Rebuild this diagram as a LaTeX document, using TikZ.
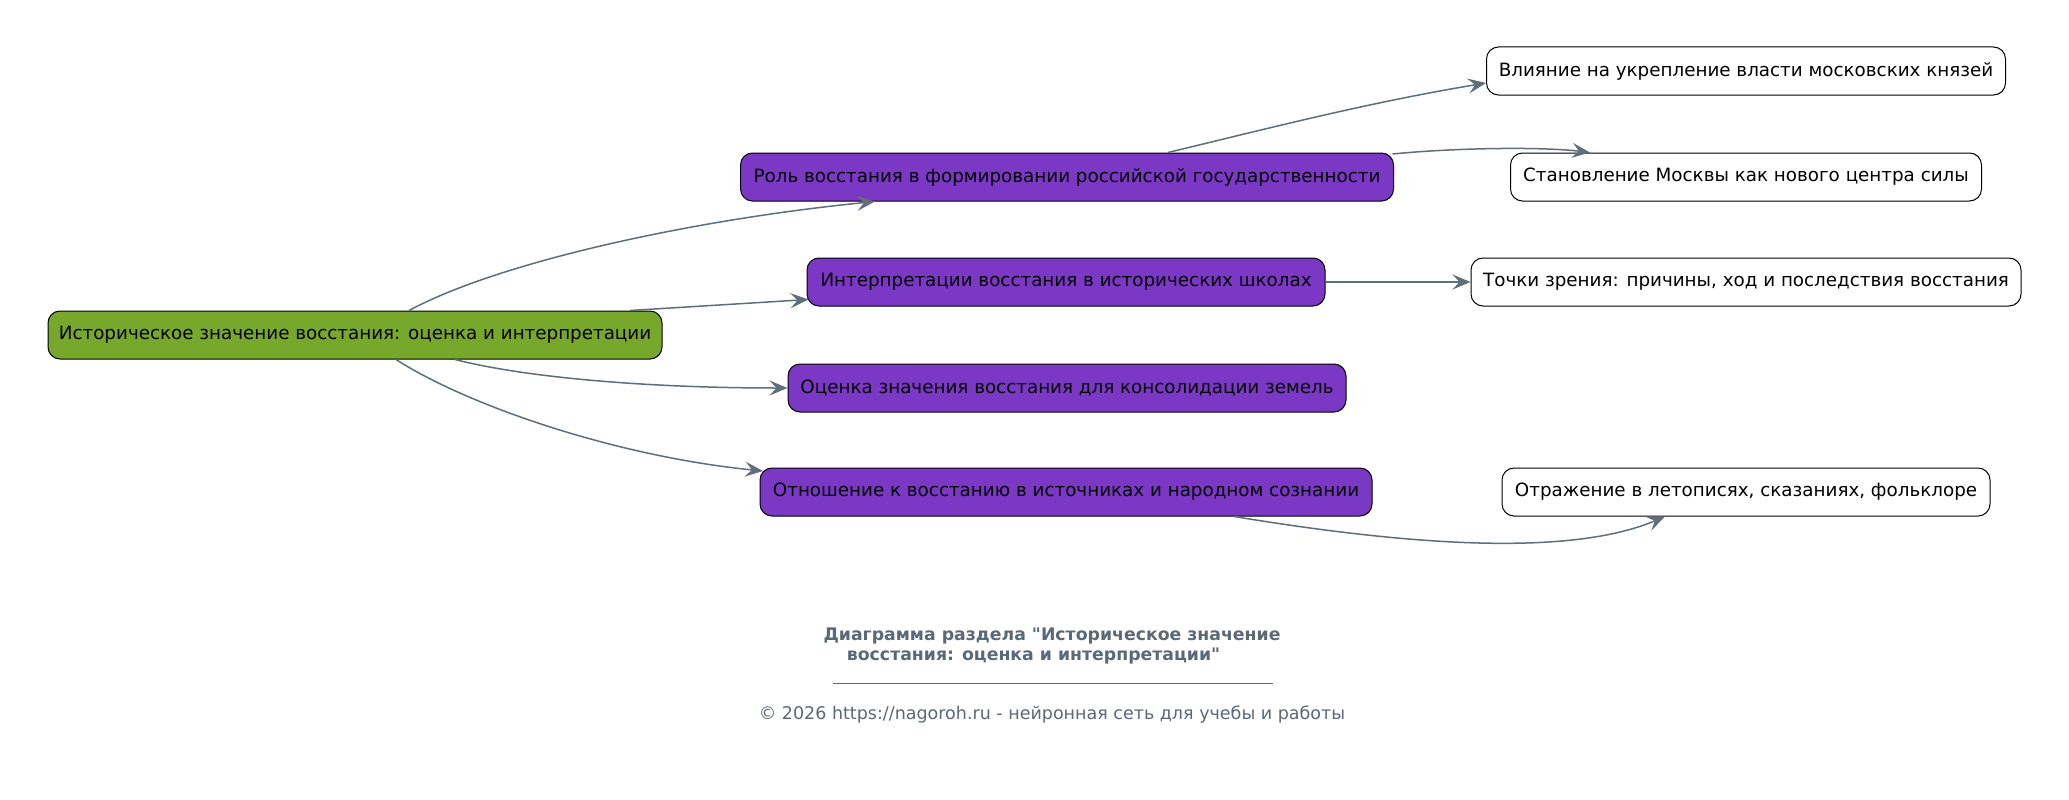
\documentclass[tikz,border=0pt]{standalone}
\usepackage{fontspec}
\setmainfont{DejaVu Sans}
\newfontfamily\plainfont{DejaVu Sans}
\usetikzlibrary{arrows.meta,calc}
\definecolor{rootgreen}{HTML}{78A82B}
\definecolor{subpurple}{HTML}{7B38C4}
\definecolor{edgegray}{HTML}{5F6E7D}
\definecolor{titlegray}{HTML}{5A6878}
\begin{document}
\begin{tikzpicture}[x=1pt,y=-1pt,
  box/.style={draw=black, line width=1pt, rounded corners=12pt, minimum height=48pt,
    inner sep=0pt, font=\fontsize{18.3}{21}\selectfont, text=black},
  rootbox/.style={box, fill=rootgreen},
  midbox/.style={box, fill=subpurple},
  leafbox/.style={box, fill=white},
  link/.style={draw=edgegray, line width=1.5pt,
    -{Stealth[length=18pt,width=15pt,inset=7pt]}}
]
\useasboundingbox (0,0) rectangle (2069,800);
\fill[white] (0,0) rectangle (2069,800);

\node[rootbox, minimum width=614pt] (root) at (355,335) {Историческое значение восстания: оценка и интерпретации};
\node[midbox, minimum width=653pt] (p1) at (1067,177) {Роль восстания в формировании российской государственности};
\node[midbox, minimum width=518pt] (p2) at (1066,282) {Интерпретации восстания в исторических школах};
\node[midbox, minimum width=558pt] (p3) at (1067,388) {Оценка значения восстания для консолидации земель};
\node[midbox, minimum width=612pt] (p4) at (1066,492) {Отношение к восстанию в источниках и народном сознании};

\node[leafbox, minimum width=519pt] (w1) at (1746,71) {Влияние на укрепление власти московских князей};
\node[leafbox, minimum width=471pt] (w2) at (1746,177) {Становление Москвы как нового центра силы};
\node[leafbox, minimum width=550pt] (w3) at (1746,282) {Точки зрения: причины, ход и последствия восстания};
\node[leafbox, minimum width=488pt] (w4) at (1746,492) {Отражение в летописях, сказаниях, фольклоре};

% root edges
\draw[link] ([shift={(54,0)}]root.north) .. controls +(91,-49) and +(-181,18) .. ([shift={(-192,0)}]p1.south);
\draw[link] ([shift={(275,0)}]root.north) -- ([shift={(2,-7)}]p2.south west);
\draw[link] ([shift={(100,0)}]root.south) .. controls +(70,18) and +(-140,0) .. (p3.west);
\draw[link] ([shift={(41,0)}]root.south) .. controls +(70,45) and +(-150,-15) .. ([shift={(3.5,3.5)}]p4.north west);

% mid to leaf edges
\draw[link] ([shift={(101,0)}]p1.north) .. controls +(100,-24) and +(-120,20) .. ([shift={(0,12)}]w1.west);
\draw[link] ([shift={(-1.5,1.5)}]p1.north east) .. controls +(60,-6) and +(-50,-6) .. ([shift={(-156,0)}]w2.north);
\draw[link] (p2.east) -- (w3.west);
\draw[link] ([shift={(168,0)}]p4.south) .. controls +(146,24) and +(-103,44) .. ([shift={(-81,0)}]w4.south);

% caption
\node[font=\plainfont\bfseries\fontsize{17.3}{19.5}\selectfont, text=titlegray, align=center] (title) at (1052,646)
  {Диаграмма раздела "Историческое значение\\восстания: оценка и интерпретации"\hspace*{37pt}};
\coordinate (ruleL) at (833,683.5);
\coordinate (ruleR) at (1273,683.5);
\draw[titlegray, line width=0.8pt] (ruleL) -- (ruleR);
\node[font=\plainfont\fontsize{17.5}{20}\selectfont, text=titlegray] (copy) at (1052,715)
  {© 2026 https://nagoroh.ru - нейронная сеть для учебы и работы};
\end{tikzpicture}
\end{document}
